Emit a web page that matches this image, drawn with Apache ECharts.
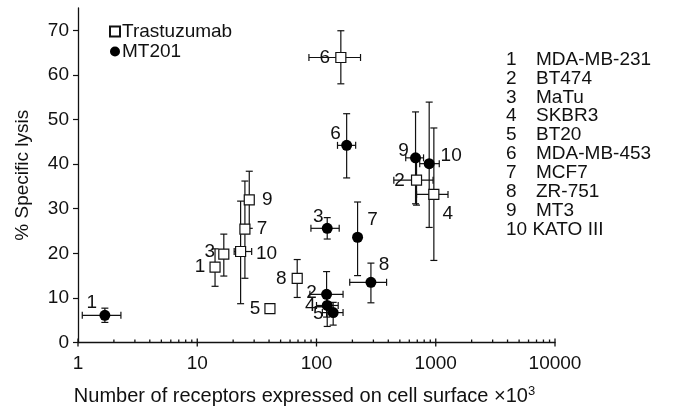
<!DOCTYPE html>
<html>
<head>
<meta charset="utf-8">
<script src="https://cdn.jsdelivr.net/npm/echarts@6/dist/echarts.min.js"></script>
<style>
html,body{margin:0;padding:0;background:#fff;}
#chart{width:677px;height:411px;}
</style>
</head>
<body>
<div id="chart"></div>
<script>
// ---- data ----
const pointLabels = ['1','2','3','4','5','6','7','8','9','10'];
const cellNumbers = ['1','2','3','4','5','6','7','8','9','10'];
const cellNames = ['MDA-MB-231','BT474','MaTu','SKBR3','BT20','MDA-MB-453','MCF7','ZR-751','MT3','KATO III'];

// Trastuzumab
const trasX   = [14.1, 690, 16.7, 964, 40.7, 160, 25.1, 68.9, 27.3, 23.1];
const trasY   = [16.9, 36.4, 19.8, 33.2, 7.6, 63.9, 25.4, 14.4, 32.0, 20.4];
const trasXLo = [14.1, 445, 16.7, 690, 38.0, 86.4, 25.1, 68.9, 27.3, 20.4];
const trasXHi = [14.1, 949, 16.7, 1267, 43.5, 234, 25.1, 68.9, 27.3, 28.6];
const trasYLo = [12.6, 30.8, 14.9, 18.4, 7.6, 58.0, 14.4, 10.1, 25.6, 8.7];
const trasYHi = [21.0, 42.0, 24.3, 48.1, 7.6, 69.9, 36.2, 18.6, 38.4, 31.7];

// MT201
const mtX   = [1.68, 121.5, 123, 123, 138, 179, 221, 286, 677, 881];
const mtY   = [6.1, 10.8, 25.6, 8.3, 6.7, 44.2, 23.6, 13.5, 41.4, 40.1];
const mtXLo = [1.086, 88, 89.8, 100, 112, 150, 221, 190, 560, 734];
const mtXHi = [2.29, 167, 155, 152, 167, 213, 221, 387, 790, 1070];
const mtYLo = [4.5, 5.7, 23.2, 3.6, 3.9, 36.9, 15.0, 8.9, 31.1, 25.8];
const mtYHi = [7.7, 15.9, 28.0, 11.0, 9.0, 51.3, 31.5, 17.8, 51.7, 53.9];

const yTicks = [0, 10, 20, 30, 40, 50, 60, 70];
const xMajorTicks = [1, 10, 100, 1000, 10000];
const xMinorTicks = [2,3,4,5,6,7,8,9, 20,30,40,50,60,70,80,90, 200,300,400,500,600,700,800,900, 2000,3000,4000,5000,6000,7000,8000,9000];

// ---- styles (label offsets in px) ----
const trasLabelOffset = [[-15,0],[-17,1],[-14,-2],[14,19],[-15,0],[-16,0],[17,0],[-16,0],[18,0],[26,2]];
const mtLabelOffset   = [[-13,-13],[-15,-2],[-9,-12],[-17,0],[-15,1],[-11,-12],[15,-17],[13,-18],[-12,-7],[22,-8]];

const FONT = 'Liberation Sans, Arial, Helvetica, sans-serif';
const FS = 19;
const INK = '#111';

function pointData(xs, ys, offsets) {
  return xs.map((x, i) => ({
    value: [x, ys[i]],
    label: {
      show: true, formatter: pointLabels[i], position: 'inside', offset: offsets[i],
      color: INK, fontSize: FS, fontFamily: FONT, textBorderWidth: 0
    }
  }));
}

function errorSeries(xs, ys, xLo, xHi, yLo, yHi) {
  return {
    type: 'custom', silent: true, z: 1, clip: false,
    encode: { x: 0, y: 1 },
    data: xs.map((x, i) => [x, ys[i], xLo[i], xHi[i], yLo[i], yHi[i]]),
    renderItem: function (params, api) {
      const x = api.value(0), y = api.value(1);
      const st = { stroke: INK, lineWidth: 1.2 };
      const cap = 3.5;
      const ch = [];
      const ln = (x1, y1, x2, y2) => ch.push({ type: 'line', shape: { x1, y1, x2, y2 }, style: st });
      if (api.value(4) !== api.value(5)) {
        const a = api.coord([x, api.value(4)]), b = api.coord([x, api.value(5)]);
        ln(a[0], a[1], b[0], b[1]);
        ln(a[0] - cap, a[1], a[0] + cap, a[1]);
        ln(b[0] - cap, b[1], b[0] + cap, b[1]);
      }
      if (api.value(2) !== api.value(3)) {
        const a = api.coord([api.value(2), y]), b = api.coord([api.value(3), y]);
        ln(a[0], a[1], b[0], b[1]);
        ln(a[0], a[1] - cap, a[0], a[1] + cap);
        ln(b[0], b[1] - cap, b[0], b[1] + cap);
      }
      return { type: 'group', children: ch };
    }
  };
}

function tickSeries(values, up, down) {
  return {
    type: 'custom', silent: true, z: 3, clip: false,
    encode: { x: 0, y: 1 },
    data: values.map(v => [v, 0]),
    renderItem: function (params, api) {
      const p = api.coord([api.value(0), 0]);
      return { type: 'line', shape: { x1: p[0], y1: p[1] - up, x2: p[0], y2: p[1] + down },
               style: { stroke: INK, lineWidth: 1.3 } };
    }
  };
}

const chart = echarts.init(document.getElementById('chart'));

const listGraphics = [];
cellNumbers.forEach((n, i) => {
  const y = 60 + i * 18.9;
  if (n.length > 1) {
    listGraphics.push({ type: 'text', left: 506, top: y - 10, style: { text: n + ' ' + cellNames[i], fill: INK, font: FS + 'px ' + FONT } });
  } else {
    listGraphics.push({ type: 'text', left: 506, top: y - 10, style: { text: n, fill: INK, font: FS + 'px ' + FONT } });
    listGraphics.push({ type: 'text', left: 536, top: y - 10, style: { text: cellNames[i], fill: INK, font: FS + 'px ' + FONT } });
  }
});

chart.setOption({
  animation: false,
  backgroundColor: '#fff',
  grid: { left: 78, right: 122, top: 8, bottom: 67, containLabel: false },
  legend: {
    data: ['Trastuzumab', 'MT201'],
    orient: 'vertical', left: 104, top: 17,
    itemWidth: 10, itemHeight: 10, itemGap: 1,
    textStyle: { color: INK, fontSize: FS, fontFamily: FONT, padding: [0, 0, 0, -3] }
  },
  xAxis: {
    type: 'log', logBase: 10, min: 1, max: 10000,
    name: 'Number of receptors expressed on cell surface \u00d710{sup|3}',
    nameLocation: 'middle', nameGap: 42,
    nameTextStyle: { color: INK, fontSize: 20, fontFamily: FONT, padding: [0, 24, 0, 0],
      rich: { sup: { fontSize: 13, verticalAlign: 'top', padding: [0, 0, 10, 0], color: INK, fontFamily: FONT } } },
    axisLine: { lineStyle: { color: INK, width: 1.3 } },
    axisTick: { show: false },
    splitLine: { show: false },
    minorTick: { show: false },
    axisLabel: { color: INK, fontSize: FS, fontFamily: FONT, margin: 12, formatter: v => String(Math.round(v)) }
  },
  yAxis: {
    type: 'value', min: 0, max: 75, interval: 10,
    name: '% Specific lysis', nameLocation: 'middle', nameGap: 46, nameRotate: 90,
    nameTextStyle: { color: INK, fontSize: FS, fontFamily: FONT },
    axisLine: { show: true, lineStyle: { color: INK, width: 1.3 } },
    axisTick: { show: true, length: 5, lineStyle: { color: INK, width: 1.2 }, customValues: yTicks },
    axisLabel: { color: INK, fontSize: FS, fontFamily: FONT, margin: 9, customValues: yTicks },
    splitLine: { show: false }
  },
  graphic: listGraphics,
  series: [
    errorSeries(trasX, trasY, trasXLo, trasXHi, trasYLo, trasYHi),
    errorSeries(mtX, mtY, mtXLo, mtXHi, mtYLo, mtYHi),
    tickSeries(xMajorTicks, 4, 4),
    tickSeries(xMinorTicks, 3, 0),
    {
      name: 'Trastuzumab', type: 'scatter', symbol: 'rect', symbolSize: 10, z: 5,
      itemStyle: { color: '#fff', borderColor: INK, borderWidth: 1.2, opacity: 1 },
      data: pointData(trasX, trasY, trasLabelOffset)
    },
    {
      name: 'MT201', type: 'scatter', symbol: 'circle', symbolSize: 11, z: 6,
      itemStyle: { color: '#000', opacity: 1 },
      data: pointData(mtX, mtY, mtLabelOffset)
    }
  ]
});
</script>
</body>
</html>
